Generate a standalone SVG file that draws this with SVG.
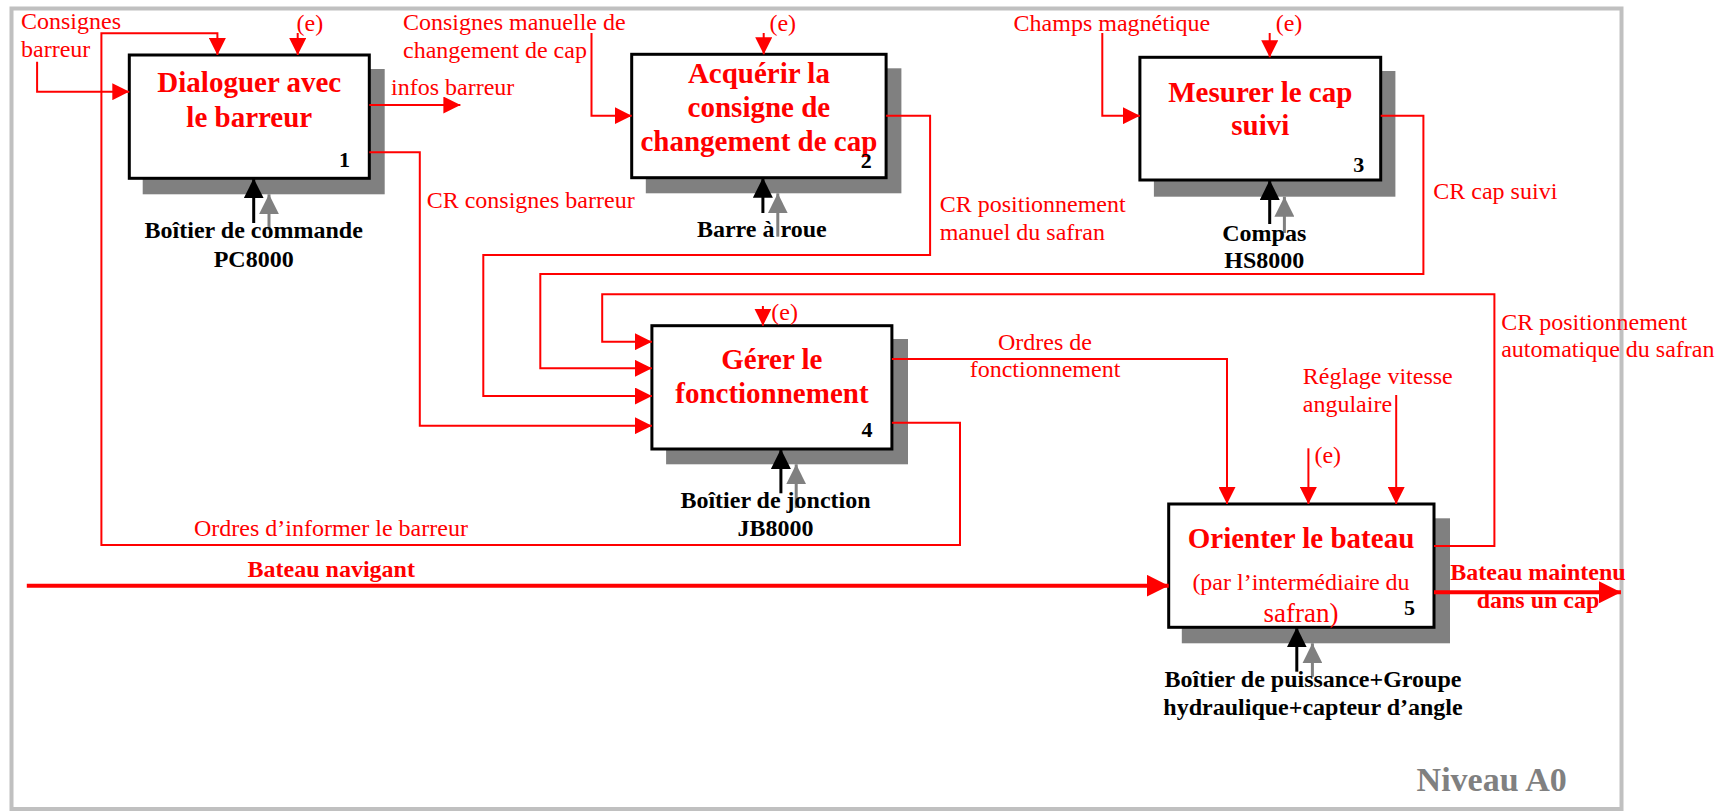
<svg xmlns="http://www.w3.org/2000/svg" width="1726" height="811" viewBox="0 0 1726 811">
<style>
text{font-family:"Liberation Serif","Times New Roman",serif}
.lbl{fill:#ff0000;font-size:24px}
.ttl{fill:#ff0000;font-size:29px;font-weight:bold;text-anchor:middle}
.num{fill:#000;font-size:22px;font-weight:bold;text-anchor:middle}
.mech{fill:#000;font-size:24px;font-weight:bold;text-anchor:middle}
.bold{font-weight:bold}
.box{fill:#fff;stroke:#000;stroke-width:3}
.shd{fill:#808080}
.c{fill:none;stroke:#ff0000;stroke-width:2;marker-end:url(#ar)}
.ct{fill:none;stroke:#ff0000;stroke-width:4;marker-end:url(#art)}
.mb{stroke:#000;stroke-width:3;marker-end:url(#ab)}
.mg{stroke:#808080;stroke-width:3;marker-end:url(#ag)}
</style>
<defs>
<marker id="ar" viewBox="0 0 17 17" refX="17" refY="8.5" markerWidth="17" markerHeight="17" markerUnits="userSpaceOnUse" orient="auto"><path d="M0,0 L17,8.5 L0,17 z" fill="#ff0000"/></marker>
<marker id="art" viewBox="0 0 22 22" refX="22" refY="11" markerWidth="22" markerHeight="22" markerUnits="userSpaceOnUse" orient="auto"><path d="M0,0 L22,11 L0,22 z" fill="#ff0000"/></marker>
<marker id="ab" viewBox="0 0 20 20" refX="20" refY="10" markerWidth="20" markerHeight="20" markerUnits="userSpaceOnUse" orient="auto"><path d="M0,0 L20,10 L0,20 z" fill="#000"/></marker>
<marker id="ag" viewBox="0 0 20 20" refX="20" refY="10" markerWidth="20" markerHeight="20" markerUnits="userSpaceOnUse" orient="auto"><path d="M0,0 L20,10 L0,20 z" fill="#808080"/></marker>
</defs>
<rect x="0" y="0" width="1726" height="811" fill="#fff"/>
<rect id="frame" x="11.5" y="8.5" width="1610" height="800.5" fill="none" stroke="#c0c0c0" stroke-width="4"/>

<g id="n1">
<rect class="shd" x="142.7" y="69" width="242" height="125.3"/>
<rect class="box" x="129.3" y="55" width="240" height="123.3"/>
<text class="ttl" x="249.3" y="91.7">Dialoguer avec</text>
<text class="ttl" x="249.3" y="126.7">le barreur</text>
<text class="num" x="344.4" y="166.7">1</text>
</g>
<g id="n2">
<rect class="shd" x="645.8" y="68.3" width="255.6" height="125"/>
<rect class="box" x="631.7" y="54.3" width="254.4" height="123.4"/>
<text class="ttl" x="758.9" y="83.3">Acquérir la</text>
<text class="ttl" x="758.9" y="116.7">consigne de</text>
<text class="ttl" x="758.9" y="150.7">changement de cap</text>
<text class="num" x="866.2" y="168.3">2</text>
</g>
<g id="n3">
<rect class="shd" x="1153.9" y="71" width="241.5" height="125.7"/>
<rect class="box" x="1139.9" y="57.3" width="240.8" height="122.7"/>
<text class="ttl" x="1260.3" y="101.7">Mesurer le cap</text>
<text class="ttl" x="1260.3" y="135">suivi</text>
<text class="num" x="1358.7" y="171.7">3</text>
</g>
<g id="n4">
<rect class="shd" x="666.1" y="339" width="241.9" height="125.3"/>
<rect class="box" x="651.9" y="325.7" width="240" height="123.3"/>
<text class="ttl" x="771.9" y="369.3">Gérer le</text>
<text class="ttl" x="771.9" y="402.7">fonctionnement</text>
<text class="num" x="867" y="436.7">4</text>
</g>
<g id="n5">
<rect class="shd" x="1181.8" y="518.3" width="268.2" height="125"/>
<rect class="box" x="1168.7" y="504" width="265.3" height="123.3"/>
<text class="ttl" x="1301" y="548.3">Orienter le bateau</text>
<text class="lbl" x="1301" y="590" text-anchor="middle">(par l’intermédiaire du</text>
<text class="lbl" x="1301" y="621.7" text-anchor="middle" style="font-size:27px">safran)</text>
<text class="num" x="1409.4" y="615">5</text>
</g>

<g id="connectors">
<path class="c" d="M37.1,61.7 V91.7 H129.3"/>
<path class="c" d="M891.9,422.7 H960 V545 H101.4 V33.3 H217.4 V55"/>
<path class="c" d="M297.7,33 V55"/>
<path class="c" d="M369.3,105 H460.4"/>
<path class="c" d="M369.3,152.3 H419.8 V425.7 H651.9"/>
<path class="c" d="M591.5,33 V115.7 H631.7"/>
<path class="c" d="M763.7,33 V54.3"/>
<path class="c" d="M886.1,115.7 H930.1 V255 H483.3 V396 H651.9"/>
<path class="c" d="M1102.3,33 V115.7 H1139.9"/>
<path class="c" d="M1269.7,33 V57.3"/>
<path class="c" d="M1380.7,115.7 H1423.4 V274 H540.3 V368.3 H651.9"/>
<path class="c" d="M762.9,306 V325.7"/>
<path class="c" d="M891.9,359 H1227 V504"/>
<path class="c" d="M1434,546 H1494.4 V294.3 H602.2 V341.7 H651.9"/>
<path class="c" d="M1308.4,448.3 V504"/>
<path class="c" d="M1396.2,395 V504"/>
<path class="ct" d="M26.8,585.7 H1168.7"/>
<path class="ct" d="M1434,592.3 H1621"/>
<line class="mb" x1="253.7" y1="223" x2="253.7" y2="178.3"/>
<line class="mg" x1="269" y1="230" x2="269" y2="194.3"/>
<line class="mb" x1="762.9" y1="213" x2="762.9" y2="177.7"/>
<line class="mg" x1="777.8" y1="236.7" x2="777.8" y2="193.3"/>
<line class="mb" x1="1269.7" y1="224" x2="1269.7" y2="180"/>
<line class="mg" x1="1284.4" y1="233" x2="1284.4" y2="196.7"/>
<line class="mb" x1="780.9" y1="493.3" x2="780.9" y2="449"/>
<line class="mg" x1="796.2" y1="508" x2="796.2" y2="464.3"/>
<line class="mb" x1="1296.8" y1="671.7" x2="1296.8" y2="627.3"/>
<line class="mg" x1="1312.4" y1="676.7" x2="1312.4" y2="643.3"/>
</g>

<g id="labels">
<text class="lbl" x="21" y="29.3">Consignes</text>
<text class="lbl" x="21" y="56.7">barreur</text>
<text class="lbl" x="296.6" y="31">(e)</text>
<text class="lbl" x="403" y="30">Consignes manuelle de</text>
<text class="lbl" x="403" y="58">changement de cap</text>
<text class="lbl" x="769.4" y="31">(e)</text>
<text class="lbl" x="1013.6" y="31">Champs magnétique</text>
<text class="lbl" x="1275.7" y="31">(e)</text>
<text class="lbl" x="391" y="95">infos barreur</text>
<text class="lbl" x="426.7" y="208.3">CR consignes barreur</text>
<text class="lbl" x="939.7" y="211.7">CR positionnement</text>
<text class="lbl" x="939.7" y="240">manuel du safran</text>
<text class="lbl" x="1433.3" y="199">CR cap suivi</text>
<text class="lbl" x="771.3" y="320">(e)</text>
<text class="lbl" x="1045" y="350" text-anchor="middle">Ordres de</text>
<text class="lbl" x="1045" y="377.3" text-anchor="middle">fonctionnement</text>
<text class="lbl" x="1501.2" y="330">CR positionnement</text>
<text class="lbl" x="1501.2" y="357.3">automatique du safran</text>
<text class="lbl" x="1302.8" y="384">Réglage vitesse</text>
<text class="lbl" x="1302.8" y="411.7">angulaire</text>
<text class="lbl" x="1314.4" y="463.3">(e)</text>
<text class="lbl" x="194" y="536">Ordres d’informer le barreur</text>
<text class="lbl bold" x="247.6" y="577.3">Bateau navigant</text>
<text class="lbl bold" x="1538" y="580" text-anchor="middle">Bateau maintenu</text>
<text class="lbl bold" x="1538" y="608.3" text-anchor="middle">dans un cap</text>
<text class="mech" x="253.7" y="238.3">Boîtier de commande</text>
<text class="mech" x="253.7" y="266.7">PC8000</text>
<text class="mech" x="761.8" y="237.3">Barre à roue</text>
<text class="mech" x="1264.3" y="240.7">Compas</text>
<text class="mech" x="1264.3" y="268.3">HS8000</text>
<text class="mech" x="775.5" y="508.3">Boîtier de jonction</text>
<text class="mech" x="775.5" y="536">JB8000</text>
<text class="mech" x="1313" y="686.7">Boîtier de puissance+Groupe</text>
<text class="mech" x="1313" y="715">hydraulique+capteur d’angle</text>
<text x="1416.6" y="790.7" style="fill:#808080;font-size:34px;font-weight:bold">Niveau A0</text>
</g>
</svg>
